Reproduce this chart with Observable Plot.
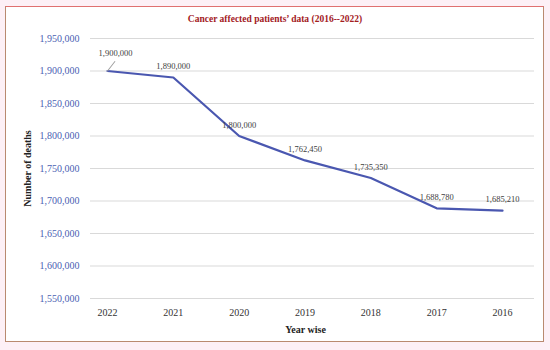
<!DOCTYPE html>
<html>
<head>
<meta charset="utf-8">
<script src="https://cdn.jsdelivr.net/npm/d3@7"></script>
<script src="https://cdn.jsdelivr.net/npm/@observablehq/plot@0.6"></script>
<style>
  html, body { margin: 0; padding: 0; background: #fdf0f6; }
  #wrap { position: relative; width: 550px; height: 350px; background: #fdf0f6; overflow: hidden; }
  #box { position: absolute; left: 5px; top: 6px; width: 539px; height: 336px; background: #ffffff;
         border: 1px solid #b98a70; border-top-color: #e07070; box-sizing: border-box; }
  #title { position: absolute; left: 0; width: 550px; top: 14px; text-align: center;
           font-family: "Liberation Serif", serif; font-weight: bold; font-size: 9.5px; color: #a3201e; }
  #chart { position: absolute; left: 0; top: 0; }
</style>
</head>
<body>
<div id="wrap">
  <div id="box"></div>
  <div id="title">Cancer affected patients’ data (2016--2022)</div>
  <div id="chart"></div>
</div>
<script>
const years = [2022, 2021, 2020, 2019, 2018, 2017, 2016];
const deaths = [1900000, 1890000, 1800000, 1762450, 1735350, 1688780, 1685210];
const yTicks = [1550000, 1600000, 1650000, 1700000, 1750000, 1800000, 1850000, 1900000, 1950000];

const data = years.map((year, i) => ({year, value: deaths[i]}));
const fmt = d3.format(",");
const leaderShape = {draw(context, l) { context.moveTo(0, 0); context.lineTo(0, -l); }};

const plot = Plot.plot({
  width: 550,
  height: 350,
  marginLeft: 90,
  marginRight: 16,
  marginTop: 38,
  marginBottom: 52,
  style: {fontFamily: "Liberation Serif, serif", background: "transparent", overflow: "visible"},
  x: {type: "linear", domain: [2016, 2022], reverse: true, insetLeft: 17, insetRight: 32},
  y: {domain: [1550000, 1950000]},
  marks: [
    Plot.gridY(yTicks, {stroke: "#d9d9d9", strokeOpacity: 1, strokeWidth: 1}),
    Plot.axisY(yTicks, {tickSize: 0, tickPadding: 11, tickFormat: fmt, fontSize: 10, fill: "#4b61b3",
      label: "Number of deaths", labelAnchor: "center", labelOffset: 67, labelArrow: "none"}),
    Plot.axisX(years, {tickSize: 0, tickPadding: 10, tickFormat: d => String(d), fontSize: 10, fill: "#333",
      label: "Year wise", labelAnchor: "center", labelOffset: 34, labelArrow: "none"}),
    Plot.line(data, {x: "year", y: "value", stroke: "#4a57b0", strokeWidth: 2.2}),
    Plot.vector(data.slice(0, 1), {x: "year", y: "value", length: 12, rotate: 38, anchor: "start",
      shape: leaderShape, stroke: "#a0a0a0", strokeWidth: 1}),
    Plot.text(data.slice(0, 1), {x: "year", y: "value", text: d => fmt(d.value), dx: 8, dy: -18,
      fontSize: 8.5, fill: "#404040"}),
    Plot.text(data.slice(1), {x: "year", y: "value", text: d => fmt(d.value), dy: -11,
      fontSize: 8.5, fill: "#404040"})
  ]
});
// bold axis labels
plot.querySelectorAll("[aria-label='y-axis label'], [aria-label='x-axis label']").forEach(g => {
  g.setAttribute("font-weight", "bold");
  g.setAttribute("fill", "#222");
  g.setAttribute("font-size", "10");
});
const xl = plot.querySelector("[aria-label='x-axis label']");
if (xl) xl.setAttribute("transform", (xl.getAttribute("transform") || "") + " translate(-7,0)");
document.getElementById("chart").appendChild(plot);
</script>
</body>
</html>
